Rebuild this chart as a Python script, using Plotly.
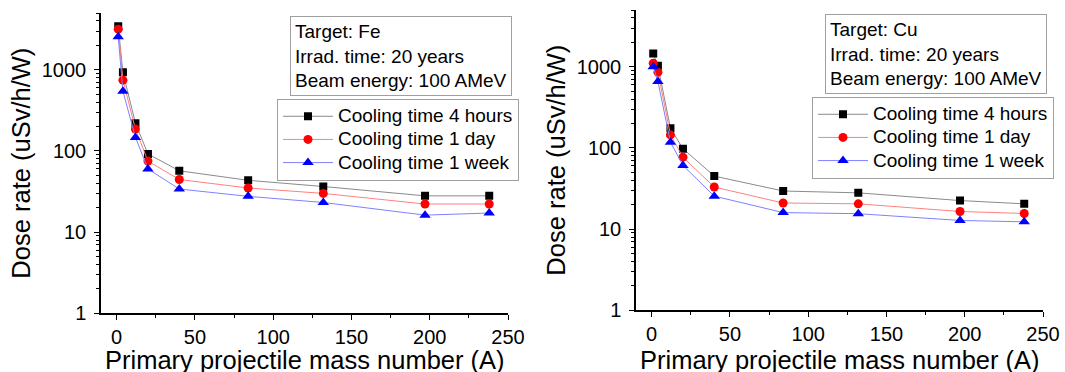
import plotly.graph_objects as go

# ---- data ----
mass_number = [1, 4, 12, 20, 40, 84, 132, 197, 238]

fe_4h = [3450, 930, 220, 92, 57, 43.5, 36.5, 28, 28]
fe_1d = [3170, 745, 186, 75, 44.5, 35, 30, 22.2, 22.2]
fe_1w = [2550, 545, 147, 60, 34, 27.6, 23.2, 16.2, 17.2]

cu_4h = [1460, 1030, 175, 98, 45, 29.5, 28, 22.5, 20.5]
cu_1d = [1110, 860, 145, 77, 33, 21, 20.5, 16.5, 15.6]
cu_1w = [1000, 660, 118, 61, 25.5, 16, 15.5, 12.8, 12.3]

series_names = ["Cooling time 4 hours", "Cooling time 1 day", "Cooling time 1 week"]
y_tick_vals = [1, 10, 100, 1000]
y_tick_text = ["1", "10", "100", "1000"]
info_fe = ["Target: Fe", "Irrad. time: 20 years", "Beam energy: 100 AMeV"]
info_cu = ["Target: Cu", "Irrad. time: 20 years", "Beam energy: 100 AMeV"]
x_title = "Primary projectile mass number (A)"
y_title = "Dose rate (uSv/h/W)"

# ---- styles ----
FONT = "Arial, 'Liberation Sans', sans-serif"
styles = [
    dict(line_color="#8a8a8a", marker=dict(symbol="square", size=8, color="#000000")),
    dict(line_color="#ff8080", marker=dict(symbol="circle", size=9, color="#ff0000")),
    dict(line_color="#8080ff", marker=dict(symbol="triangle-up", size=10, color="#0000ff")),
]

fig = go.Figure()

panels = [
    ("x", "y", "legend", [fe_4h, fe_1d, fe_1w]),
    ("x2", "y2", "legend2", [cu_4h, cu_1d, cu_1w]),
]
for xa, ya, leg, data in panels:
    for name, vals, st in zip(series_names, data, styles):
        fig.add_trace(go.Scatter(
            x=mass_number, y=vals,
            name=f"<span style='font-size:19px'>{name}</span>",
            mode="lines+markers",
            line=dict(color=st["line_color"], width=1),
            marker=dict(symbol=st["marker"]["symbol"], size=st["marker"]["size"],
                        color=st["marker"]["color"], line=dict(width=0)),
            xaxis=xa, yaxis=ya, legend=leg,
        ))

TITLE_SIZE = 25.5

def xaxis_cfg(domain, anchor):
    return dict(
        domain=domain, anchor=anchor, range=[-10, 250],
        tickmode="linear", tick0=0, dtick=50,
        ticks="outside", ticklen=5, tickwidth=1.2, tickcolor="black",
        minor=dict(ticks="outside", ticklen=3, tickwidth=1.2, tickcolor="black",
                   tick0=0, dtick=25, showgrid=False),
        showline=True, linecolor="black", linewidth=1.5,
        showgrid=False, zeroline=False,
        tickfont=dict(size=20, color="black", family=FONT),
        automargin=False,
    )

def yaxis_cfg(domain, anchor):
    return dict(
        domain=domain, anchor=anchor, type="log", range=[0, 3.7],
        tickmode="array", tickvals=y_tick_vals, ticktext=y_tick_text,
        ticks="outside", ticklen=5, tickwidth=1.2, tickcolor="black",
        minor=dict(ticks="outside", ticklen=3, tickwidth=1.2, tickcolor="black",
                   dtick="D1", showgrid=False),
        showline=True, linecolor="black", linewidth=1.5,
        showgrid=False, zeroline=False,
        tickfont=dict(size=20, color="black", family=FONT),
        ticklabelstandoff=4,
        title=dict(text=y_title, font=dict(size=TITLE_SIZE, color="black", family=FONT), standoff=4),
        automargin=False,
    )

W, H = 1065, 372
X1 = [101 / W, 508 / W]
X2 = [636 / W, 1043 / W]
legend_common = dict(
    xanchor="right", yanchor="top",
    bordercolor="#a0a0a0", borderwidth=1, bgcolor="white",
    font=dict(size=15.5, color="black", family=FONT),
    tracegroupgap=0, itemwidth=50,
)
fig.update_layout(
    width=W, height=H,
    margin=dict(l=0, r=0, t=0, b=0),
    paper_bgcolor="white", plot_bgcolor="white",
    font=dict(family=FONT, color="black"),
    xaxis=xaxis_cfg(X1, "y"),
    yaxis=yaxis_cfg([1 - 313.3 / H, 1 - 13 / H], "x"),
    xaxis2=xaxis_cfg(X2, "y2"),
    yaxis2=yaxis_cfg([1 - 310.3 / H, 1 - 10 / H], "x2"),
    legend=dict(x=519 / W, y=1 - 98.7 / H, **legend_common),
    legend2=dict(x=1054 / W, y=1 - 96.7 / H, **legend_common),
    showlegend=True,
)

# info boxes
for lines, xr, yt in [(info_fe, 512 / W, 1 - 15.7 / H), (info_cu, 1047 / W, 1 - 14 / H)]:
    fig.add_annotation(
        xref="paper", yref="paper", x=xr, y=yt, xanchor="right", yanchor="top",
        text="<br>".join(lines), showarrow=False, align="left",
        font=dict(size=19, color="black", family=FONT),
        bordercolor="#a0a0a0", borderwidth=1, borderpad=4, bgcolor="white",
    )

# x-axis titles (placed low, as in the reference)
for dom in (X1, X2):
    fig.add_annotation(
        xref="paper", yref="paper", x=(dom[0] + dom[1]) / 2, y=1 - 344 / H,
        xanchor="center", yanchor="top", text=x_title, showarrow=False,
        font=dict(size=TITLE_SIZE, color="black", family=FONT),
    )

fig.write_html("out.html")
